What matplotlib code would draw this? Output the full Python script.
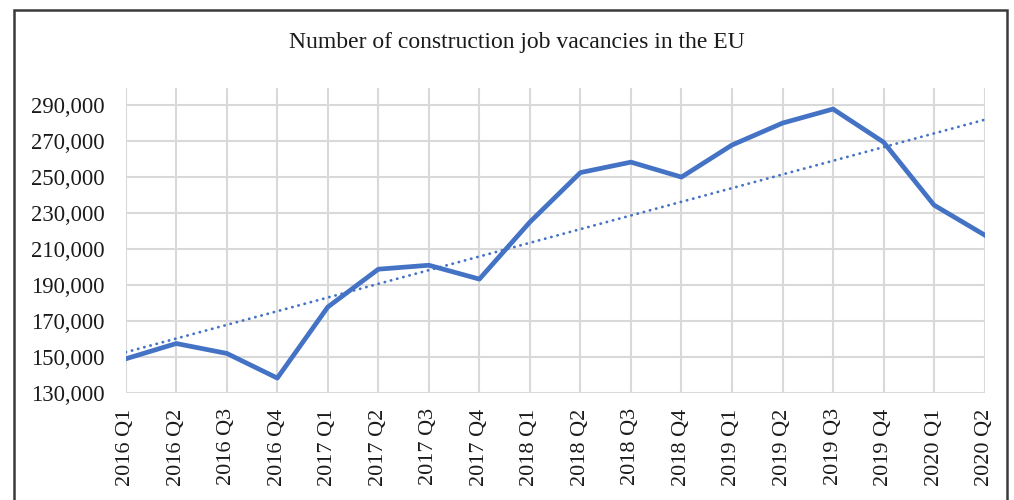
import numpy as np
import matplotlib
matplotlib.use("Agg")
from matplotlib import pyplot as plt
from matplotlib.patches import Rectangle

quarters = ["2016 Q1", "2016 Q2", "2016 Q3", "2016 Q4",
            "2017 Q1", "2017 Q2", "2017 Q3", "2017 Q4",
            "2018 Q1", "2018 Q2", "2018 Q3", "2018 Q4",
            "2019 Q1", "2019 Q2", "2019 Q3", "2019 Q4",
            "2020 Q1", "2020 Q2"]
vacancies = [149000, 157500, 152000, 138300,
             177800, 198800, 201000, 193300,
             225000, 252500, 258300, 250000,
             267800, 280000, 287800, 269400,
             234400, 217800]
yticks = list(range(130000, 290001, 20000))

plt.rcParams['font.family'] = ['Liberation Serif', 'DejaVu Serif']

x = np.arange(len(quarters))
coef = np.polyfit(x, vacancies, 1)
trend = np.polyval(coef, x)

fig = plt.figure(figsize=(10.14, 5.0), dpi=100)
ax = fig.add_axes([0.124, 0.214, 0.847, 0.61])

ax.plot(x, vacancies, color='#4472C4', lw=3.4, solid_joinstyle='round', zorder=3)
ax.plot(x, trend, color='#4472C4', lw=2.0, ls=(0, (0.1, 2.2)),
        dash_capstyle='round', zorder=3)

ax.set_xlim(0, len(quarters) - 1)
ax.set_ylim(130000, 299500)
ax.set_xticks(x)
ax.set_xticklabels(quarters, rotation=90, fontsize=16)
ax.set_yticks(yticks)
ax.set_yticklabels([f"{v:,}" for v in yticks], fontsize=16.3)
ax.tick_params(axis='y', length=0, pad=15, colors='#1a1a1a')
ax.tick_params(axis='x', length=0, pad=11, colors='#1a1a1a')
ax.grid(True, color='#d9d9d9', lw=1.5)
ax.set_axisbelow(True)
for s in ax.spines.values():
    s.set_visible(False)

fig.text(0.51, 0.915, "Number of construction job vacancies in the EU",
         ha='center', va='center', fontsize=17, color='#1a1a1a')

fig.patches.append(Rectangle((14 / 1014, -0.1), 993 / 1014, 1.08,
                             transform=fig.transFigure, fill=False,
                             ec='#3a3a3a', lw=1.8))

fig.savefig("out.png", dpi=100)
